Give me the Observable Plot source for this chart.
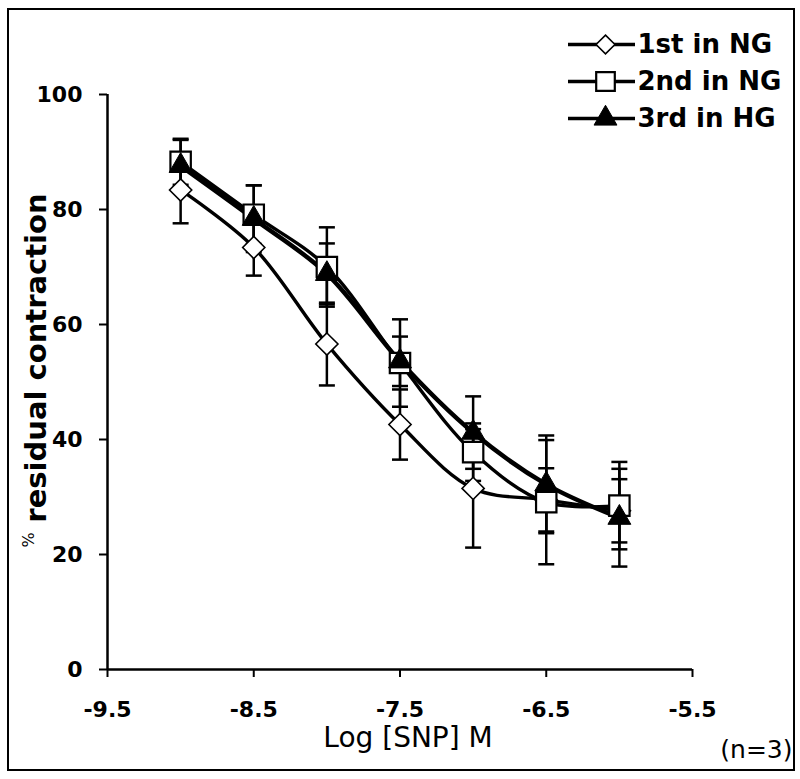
<!DOCTYPE html>
<html><head><meta charset="utf-8">
<script src="https://cdn.jsdelivr.net/npm/d3@7"></script>
<script src="https://cdn.jsdelivr.net/npm/@observablehq/plot@0.6"></script>
<style>
html,body{margin:0;padding:0;background:#fff;}
#wrap{position:relative;width:800px;height:779px;overflow:hidden;background:#fff;}
#chart{position:absolute;left:0;top:0;}
#legend{position:absolute;left:562px;top:25px;}
#frame{position:absolute;left:7px;top:8px;width:788px;height:763px;border:2.5px solid #000;box-sizing:border-box;pointer-events:none;}
</style></head><body>
<div id="wrap"><div id="chart"></div><div id="legend"></div><div id="frame"></div></div>
<script>
// ---- data ----
const doses = [-9, -8.5, -8, -7.5, -7, -6.5, -6];
const seriesNames = ["1st in NG", "2nd in NG", "3rd in HG"];
const firstNG    = [83.4, 73.4, 56.6, 42.6, 31.5, 29.5, 27.6];
const firstNGErr = [5.8, 4.9, 7.2, 6.1, 10.3, 5.5, 5.5];
const secondNG    = [88.3, 79.1, 70.0, 53.3, 37.8, 29.1, 28.5];
const secondNGErr = [4.0, 5.1, 6.9, 7.6, 5.0, 10.8, 7.6];
const thirdHG    = [87.6, 78.4, 68.8, 53.6, 41.2, 32.2, 26.4];
const thirdHGErr = [4.5, 5.8, 5.3, 4.3, 6.3, 8.5, 8.5];
const xTicks = [-9.5, -8.5, -7.5, -6.5, -5.5];
const yTicks = [0, 20, 40, 60, 80, 100];
const xLabel = "Log [SNP] M";
const yLabel = "residual contraction";
const yUnit = "%";
const note = "(n=3)";

// ---- build table ----
const values = [firstNG, secondNG, thirdHG];
const errs = [firstNGErr, secondNGErr, thirdHGErr];
const rows = [];
seriesNames.forEach((s, i) => doses.forEach((x, j) => rows.push({series: s, x, y: values[i][j], err: errs[i][j]})));
const bySeries = s => rows.filter(d => d.series === s);

const cap = {draw(ctx, size) { const w = Math.sqrt(size / Math.PI); ctx.moveTo(-w, 0); ctx.lineTo(w, 0); }};
const font = "DejaVu Sans";

const chart = Plot.plot({
  width: 800, height: 779,
  marginLeft: 107, marginRight: 108, marginTop: 94, marginBottom: 110,
  style: {fontFamily: font, background: "transparent", color: "black", overflow: "visible"},
  x: {domain: [-9.5, -5.5]},
  y: {domain: [0, 100]},
  marks: [
    Plot.axisY({ticks: yTicks, tickSize: 8, tickPadding: 17, fontSize: 22, fontWeight: "bold", strokeWidth: 2, label: null, tickFormat: d => String(d)}),
    Plot.axisX({ticks: xTicks, tickSize: 8, tickPadding: 24, fontSize: 22, fontWeight: "bold", strokeWidth: 2, label: null, tickFormat: d => d.toFixed(1)}),
    Plot.ruleX([-9.5], {strokeWidth: 2.5}),
    Plot.ruleY([0], {strokeWidth: 2.5}),
    // error bars
    Plot.ruleX(rows, {x: "x", y1: d => d.y - d.err, y2: d => d.y + d.err, strokeWidth: 2.5, stroke: "black"}),
    Plot.dot(rows, {x: "x", y: d => d.y + d.err, symbol: cap, r: 8, stroke: "black", strokeWidth: 2.5, fill: "none"}),
    Plot.dot(rows, {x: "x", y: d => d.y - d.err, symbol: cap, r: 8, stroke: "black", strokeWidth: 2.5, fill: "none"}),
    // lines
    Plot.line(bySeries(seriesNames[0]), {x: "x", y: "y", curve: "catmull-rom", stroke: "black", strokeWidth: 3.4}),
    Plot.line(bySeries(seriesNames[1]), {x: "x", y: "y", curve: "catmull-rom", stroke: "black", strokeWidth: 3.4}),
    Plot.line(bySeries(seriesNames[2]), {x: "x", y: "y", curve: "catmull-rom", stroke: "black", strokeWidth: 4.5}),
    // markers
    Plot.dot(bySeries(seriesNames[0]), {x: "x", y: "y", symbol: "diamond2", r: 10, fill: "white", stroke: "black", strokeWidth: 1.6}),
    Plot.dot(bySeries(seriesNames[1]), {x: "x", y: "y", symbol: "square", r: 11.5, fill: "white", stroke: "black", strokeWidth: 2.2}),
    Plot.dot(bySeries(seriesNames[2]), {x: "x", y: "y", symbol: "triangle", r: 8.5, fill: "black", stroke: "black", strokeWidth: 1}),
    // labels
    Plot.text([yLabel], {text: d => d, frameAnchor: "left", textAnchor: "middle", dx: -71, dy: -24, rotate: -90, fontSize: 29, fontWeight: "bold"}),
    Plot.text([yUnit], {text: d => d, frameAnchor: "left", textAnchor: "middle", dx: -79, dy: 158, rotate: -90, fontSize: 16}),
    Plot.text([xLabel], {text: d => d, frameAnchor: "bottom", dx: 8, dy: 77, fontSize: 28}),
    Plot.text([note], {text: d => d, frameAnchor: "bottom-right", dx: 100, dy: 88, textAnchor: "end", fontSize: 25})
  ]
});
document.getElementById("chart").appendChild(chart);

const legend = Plot.plot({
  width: 236, height: 120, marginTop: 18, marginBottom: 27, marginLeft: 0, marginRight: 0,
  style: {fontFamily: font, background: "transparent", color: "black", overflow: "visible"},
  x: {domain: [0, 1], axis: null},
  y: {type: "point", domain: seriesNames, axis: null, padding: 0},
  marks: [
    Plot.ruleY(seriesNames, {y: d => d, insetLeft: 6, insetRight: 163, strokeWidth: 3.5, stroke: "black"}),
    Plot.dot([seriesNames[0]], {y: d => d, frameAnchor: "left", dx: 43, symbol: "diamond2", r: 8.5, fill: "white", stroke: "black", strokeWidth: 1.6}),
    Plot.dot([seriesNames[1]], {y: d => d, frameAnchor: "left", dx: 43, symbol: "square", r: 10.5, fill: "white", stroke: "black", strokeWidth: 2.2}),
    Plot.dot([seriesNames[2]], {y: d => d, frameAnchor: "left", dx: 43, symbol: "triangle", r: 8.5, fill: "black", stroke: "black", strokeWidth: 1}),
    Plot.text(seriesNames, {y: d => d, text: d => d, frameAnchor: "left", dx: 75, textAnchor: "start", fontSize: 26, fontWeight: "bold"})
  ]
});
document.getElementById("legend").appendChild(legend);
</script></body></html>
